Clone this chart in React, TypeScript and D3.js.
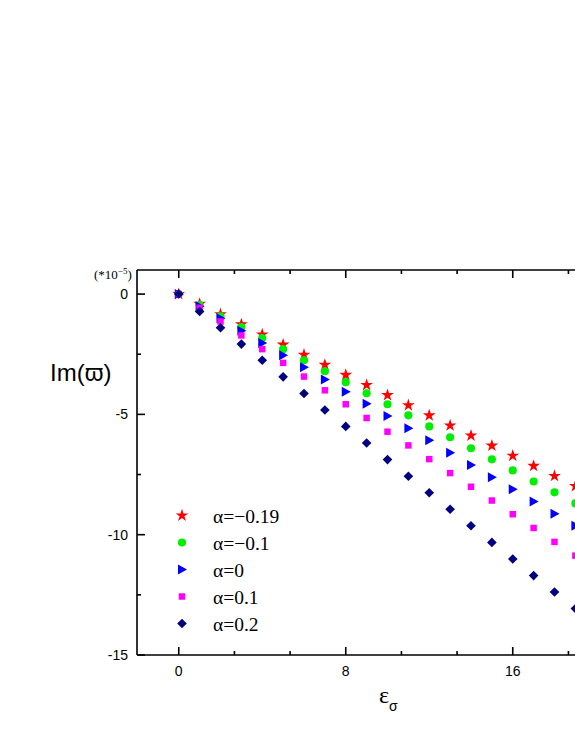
import React from "react";
import * as d3 from "d3";

const xs = [0, 1, 2, 3, 4, 5, 6, 7, 8, 9, 10, 11, 12, 13, 14, 15, 16, 17, 18, 19, 20];
const starVals = [0, -0.41, -0.84, -1.26, -1.68, -2.1, -2.52, -2.94, -3.36, -3.78, -4.2, -4.62, -5.04, -5.46, -5.88, -6.3, -6.72, -7.14, -7.56, -7.98, -8.4];
const circleVals = [0, -0.46, -0.92, -1.37, -1.83, -2.29, -2.75, -3.21, -3.66, -4.12, -4.58, -5.04, -5.5, -5.95, -6.41, -6.87, -7.33, -7.79, -8.24, -8.7, -9.16];
const triVals = [0, -0.51, -1.01, -1.52, -2.03, -2.54, -3.04, -3.55, -4.06, -4.56, -5.07, -5.58, -6.08, -6.59, -7.1, -7.61, -8.11, -8.62, -9.13, -9.63, -10.14];
const squareVals = [0, -0.57, -1.14, -1.72, -2.29, -2.86, -3.43, -4.0, -4.58, -5.15, -5.72, -6.29, -6.86, -7.44, -8.01, -8.58, -9.15, -9.72, -10.3, -10.87, -11.44];
const diamondVals = [0, -0.72, -1.4, -2.08, -2.75, -3.44, -4.13, -4.82, -5.5, -6.19, -6.88, -7.57, -8.26, -8.94, -9.63, -10.32, -11.01, -11.7, -12.38, -13.07, -13.76];

const seriesLabels = ["α=−0.19", "α=−0.1", "α=0", "α=0.1", "α=0.2"];
const seriesColors = ["#ff0000", "#00ee00", "#0000ff", "#ff00ff", "#000080"];
const seriesSymbols = [d3.symbolStar, d3.symbolCircle, "tri", d3.symbolSquare, "dia"] as any[];
const seriesSizes = [50, 52, 0, 42, 0];
const seriesData = [starVals, circleVals, triVals, squareVals, diamondVals];

const xMajor = [0, 8, 16, 24];
const yMajor = [0, -5, -10, -15];

const triPath = "M-4,-5L5,0L-4,5Z";
const diaPath = "M0,-4.8L4.8,0L0,4.8L-4.8,0Z";

function symbolPath(i: number) {
  const s = seriesSymbols[i];
  if (s === "tri") return triPath;
  if (s === "dia") return diaPath;
  return d3.symbol(s, seriesSizes[i])() as string;
}

export default function App() {
  const W = 575, H = 744;
  const left = 137, top = 270, bottom = 655;
  const xs1 = d3.scaleLinear().domain([-2, 22]).range([left, left + 24 * 20.875]);
  const y = d3.scaleLinear().domain([-15, 1]).range([bottom, top]);
  const right = 700;

  const xMinor: number[] = [];
  for (let v = -8 / 3; v < 24; v += 8 / 3) if (v > -2 && Math.abs(v % 8) > 0.01 && Math.abs((v % 8) + 8) % 8 < 7.99) xMinor.push(v);
  const yMinor = [-2.5, -7.5, -12.5];

  return (
    <svg width={W} height={H} style={{ position: "absolute", left: 0, top: 0, background: "#fff" }}>
      <rect width={W} height={H} fill="#fff" />
      <g stroke="#000" strokeWidth={1.6} fill="none">
        <line x1={left} x2={right} y1={bottom} y2={bottom} />
        <line x1={left} x2={right} y1={top} y2={top} />
        <line x1={left} x2={left} y1={top} y2={bottom} />
      </g>
      <g stroke="#000" strokeWidth={1.6}>
        {xMajor.map((v) => (
          <g key={"xm" + v}>
            <line x1={xs1(v)} x2={xs1(v)} y1={bottom} y2={bottom - 8} />
            <line x1={xs1(v)} x2={xs1(v)} y1={top} y2={top + 8} />
          </g>
        ))}
        {xMinor.map((v, i) => (
          <g key={"xn" + i}>
            <line x1={xs1(v)} x2={xs1(v)} y1={bottom} y2={bottom - 4} />
            <line x1={xs1(v)} x2={xs1(v)} y1={top} y2={top + 4} />
          </g>
        ))}
        {yMajor.map((v) => (
          <line key={"ym" + v} x1={left} x2={left + 8} y1={y(v)} y2={y(v)} />
        ))}
        {yMinor.map((v) => (
          <line key={"yn" + v} x1={left} x2={left + 4} y1={y(v)} y2={y(v)} />
        ))}
      </g>
      <g fontFamily="Liberation Sans, Arial, sans-serif" fontSize={14} fill="#000">
        {xMajor.filter((v) => v <= 16).map((v) => (
          <text key={"xl" + v} x={xs1(v)} y={676} textAnchor="middle">{v}</text>
        ))}
        {yMajor.map((v) => (
          <text key={"yl" + v} x={128} y={y(v) + 5} textAnchor="end">{v}</text>
        ))}
      </g>
      <text x={94} y={279} fontFamily="Liberation Serif, Times New Roman, serif" fontSize={13}>
        (*10<tspan dy={-5} fontSize={9}>−5</tspan><tspan dy={5}>)</tspan>
      </text>
      <text x={50} y={381} fontFamily="Liberation Sans, Arial, sans-serif" fontSize={24}>Im(ϖ)</text>
      <text x={379} y={703} fontFamily="Liberation Serif, Times New Roman, serif" fontSize={24}>
        ε<tspan dy={8} fontSize={14} fontFamily="Liberation Sans, Arial, sans-serif">σ</tspan>
      </text>
      {seriesData.map((vals, si) => (
        <g key={"s" + si} fill={seriesColors[si]}>
          {vals.map((v, i) => (
            <path key={i} d={symbolPath(si)} transform={`translate(${xs1(xs[i])},${y(v)})`} />
          ))}
        </g>
      ))}
      {seriesLabels.map((lab, i) => (
        <g key={"lg" + i} transform={`translate(0,${515.5 + i * 27})`}>
          <path d={symbolPath(i)} fill={seriesColors[i]} transform={`translate(182,0)`} />
          <text x={213} y={7} fontFamily="Liberation Serif, Times New Roman, serif" fontSize={19.5}>{lab}</text>
        </g>
      ))}
    </svg>
  );
}
